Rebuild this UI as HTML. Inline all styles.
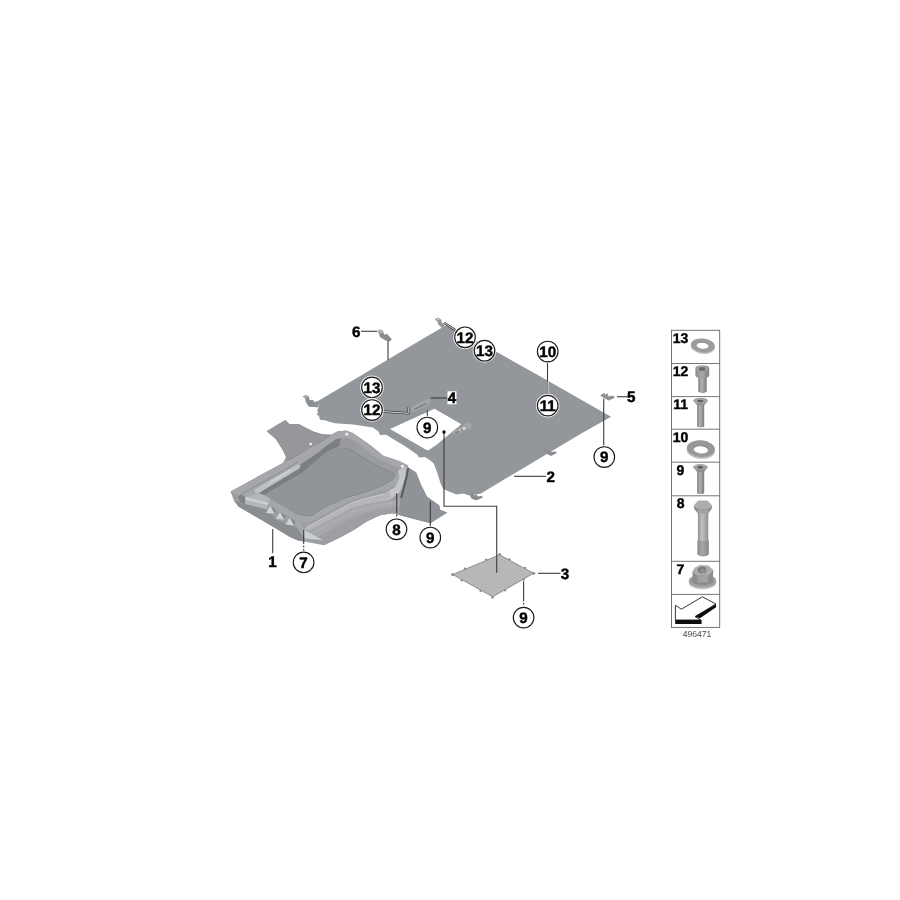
<!DOCTYPE html>
<html lang="en">
<head>
<meta charset="utf-8">
<title>Underbody panelling diagram 496471</title>
<style>
html,body{margin:0;padding:0;background:#fff;}
body{width:900px;height:900px;overflow:hidden;}
svg{display:block;}
text{font-family:"Liberation Sans",sans-serif;}
text{text-rendering:geometricPrecision;}
.b{font-weight:bold;font-size:15.2px;fill:#000;stroke:#000;stroke-width:0.45px;text-anchor:middle;}
.t{font-weight:bold;font-size:14px;fill:#000;stroke:#000;stroke-width:0.4px;text-anchor:middle;}
.c{fill:#fff;stroke:#1c1c1c;stroke-width:1.15;}
.l{stroke:#3c3c3c;stroke-width:1.1;fill:none;}
.h{stroke:#3a3a3a;stroke-width:2.4;fill:none;}
.hw{stroke:#fff;stroke-width:0.8;fill:none;}
</style>
</head>
<body>
<svg width="900" height="900" viewBox="0 0 900 900">
<defs>
<filter id="soft" x="-5%" y="-5%" width="110%" height="110%"><feGaussianBlur stdDeviation="0.5"/></filter>
<filter id="soft2" x="-5%" y="-5%" width="110%" height="110%"><feGaussianBlur stdDeviation="0.35"/></filter>
<linearGradient id="shaft" x1="0" x2="1" y1="0" y2="0">
<stop offset="0" stop-color="#7e7e7e"/><stop offset="0.4" stop-color="#b2b2b2"/><stop offset="1" stop-color="#7a7a7a"/>
</linearGradient>
<linearGradient id="shaft8" x1="0" x2="1" y1="0" y2="0">
<stop offset="0" stop-color="#8c8c8c"/><stop offset="0.4" stop-color="#c2c2c2"/><stop offset="1" stop-color="#8a8a8a"/>
</linearGradient>
<linearGradient id="headg" x1="0" x2="1" y1="0" y2="0">
<stop offset="0" stop-color="#8c8c8c"/><stop offset="0.45" stop-color="#a8a8a8"/><stop offset="1" stop-color="#808080"/>
</linearGradient>
<pattern id="mesh" width="2" height="2" patternUnits="userSpaceOnUse">
<rect width="2" height="2" fill="#b4b4b4"/><rect width="1" height="1" fill="#aaaaaa"/><rect x="1" y="1" width="1" height="1" fill="#bdbdbd"/>
</pattern>
</defs>
<rect width="900" height="900" fill="#fff"/>

<g id="art" filter="url(#soft)">
<!-- PANEL 2 -->
<g id="panel2">
<path fill="#93969b" d="M318,401 L388,359.6 L425,337.6 L446.5,325 L475.8,340.7 L496,351.6 L540,376.2 L611,416.7 L580,434.2 L500,482 L481,493.6 L470,495.6 L468.2,495.3 L463.8,493.6 L456.7,494.4 L447.8,490.9 L443.3,489.1 L440.7,483.8 L437.1,472.2 L433.6,463.3 L432.2,462 L425.1,457 L418.9,457.4 L417.1,454.5 L404.7,446 L386,434.7 L380,434.9 L378.5,431.5 L372.9,427.5 L353.3,424.6 L335,423.2 L329.7,421.9 L326.1,420.6 L320,419.7 L319,416 L316.5,414.3 L318.1,412.6 L317.2,410.8 L318.4,407.2 Z"/>
<path fill="#fff" d="M390,429 L434.5,408.8 L461.3,424.3 L437,444.6 L428.5,450.2 L427,450.2 Z"/>
<!-- brackets 4 -->
<path fill="#a3a5a8" d="M410.7,407.5 L428,398.5 L430.3,400.5 L429.3,405 L412,412.3 Z"/>
<path fill="#7e8185" d="M413.5,409 L426.5,402.5 L427,404 L414,410.3 Z"/>
<path fill="#a3a5a8" d="M452,432 L469.3,422 L471.5,424 L471,427.5 L455,435 Z"/>
<path fill="#7e8185" d="M455,432.7 L462,429 L462.5,430.5 L455.7,434 Z"/>
<circle cx="464" cy="428.5" r="1.3" fill="#e8e8e8"/>
<circle cx="460" cy="430.5" r="1" fill="#e0e0e0"/>
<!-- clips -->
<path fill="#8b8d90" d="M543,449.6 L546,448.3 L547.5,450.5 L549.3,449.3 L551,452 L555.5,451.5 L557,453 L551,456 L547,454 L545.5,452 Z"/>
<path fill="#8b8d90" d="M470,494.5 L473,493.3 L474.5,495.5 L476.3,494.3 L478,496.5 L481.5,495.8 L483,497.5 L476.5,500.3 L472,499 L470.5,497 Z"/>
<path fill="#8c8f93" d="M302.6,396.6 L305.7,395 L308.8,396.6 L309.7,400.1 L312.8,400.1 L314.6,401.9 L318.1,401 L318,407.2 L309.2,406.8 L308.3,405.9 L305.7,401.9 L305.2,398.8 Z"/>
<path fill="#b4b6b8" d="M303.5,396.6 L305.7,395.5 L307.8,397 L305.5,398 Z"/>
<!-- bracket 6 -->
<path fill="#8a8c8f" d="M377.4,331.2 L379.7,329.4 L382.8,330.6 L384.1,334.6 L387.2,334.1 L391.7,339 L390.3,341.2 L386.3,340.8 L380.1,337.2 L379.2,334.1 Z"/>
<path fill="#b9bbbd" d="M378.3,331.2 L379.8,330 L382,331 L382.5,333 L380,333 Z"/>
<!-- bracket near top 12 -->
<path fill="#96989b" d="M434.8,319.2 L437.9,317.4 L441.4,319.7 L441.9,322.8 L444.1,324.6 L444.5,327.5 L441.9,328 L438.3,324.6 L437.9,321.9 L436,320.5 Z"/>
<path fill="#c2c4c6" d="M436.2,319.2 L438,318.3 L439.8,319.5 L438.2,320.4 Z"/>
<!-- bracket 5 -->
<path fill="#909295" d="M600.2,395.3 L604.2,392.9 L605.6,394.7 L607.3,393.1 L608.7,396.4 L612.2,395.6 L614.9,396.9 L614,398.2 L608.7,400.4 L603.3,397.8 Z"/>
</g>

<!-- TRAY 1 -->
<g id="tray1">
<!-- outline base -->
<path fill="#9c9ea2" d="M266.7,431.3 L285.3,420 L289.3,424 L298.7,424 L313.3,431.6 L322.2,434.2 L331.1,434.7 L337.3,431.6 L346.2,430.5 L353.3,433.3 L362.2,439.6 L371.1,445.8 L383.3,455.7 L399.3,461 L407.3,465 L409.1,468.1 L416.2,472.6 L420.7,484.1 L426.9,496.6 L439.3,505.4 L440.2,509.9 L447.3,512.6 L430.4,523.2 L399.3,515.1 L392.2,513.3 L380,515.2 L366.7,521.6 L353.3,530.2 L340,537.6 L323.8,545.3 L312.2,543.1 L298,540.4 L290,536.9 L276.7,528.9 L261.6,520 L238.7,506.7 L234,500.7 L230.5,491.5 L260,475.3 L282.8,463.1 L286,457 L282.7,450 L276,439.3 Z"/>
<!-- upper-left flap -->
<path fill="#95979b" d="M266.7,431.3 L285.3,420 L289.3,424 L298.7,424 L313.3,431.6 L322.2,434.2 L331.1,434.7 L322.2,441.3 L311,448 L300,453.8 L286,461.5 L286,457 L282.7,450 L276,439.3 Z"/>
<path fill="none" stroke="#6d7074" stroke-width="0.9" d="M287,461 L300,453.8 L311.5,448 L322.2,441.3 L331,435"/>
<!-- right flap darker -->
<path fill="#8f9296" d="M409.1,468.1 L416.2,472.6 L420.7,484.1 L426.9,496.6 L439.3,505.4 L440.2,509.9 L447.3,512.6 L430.4,523.2 L399.3,515.2 L398.5,505 L401.1,498.3 Z"/>
<!-- outer rim band (left) slightly lighter -->
<path fill="#a5a7aa" d="M230.5,491.5 L260,475.3 L282.8,463.1 L287,461 L300,453.8 L322.2,441.3 L331,435 L337.3,431.6 L346.2,430.5 L353.3,433.3 L362.2,439.6 L371.1,445.8 L383.3,455.7 L399.3,461 L407.3,465 L408.2,468.1 L402,470 L384,461.5 L370,454 L356,441.5 L346,437.5 L333,441 L303,463 L299.7,468.4 L257.9,493.3 L245.4,496.9 Z"/>
<!-- groove line -->
<path fill="none" stroke="#888b8f" stroke-width="0.9" d="M241,494.2 L254.3,487 L283,470.5 L298,462"/>
<!-- left rim highlight strip -->
<path fill="#bfc1c4" d="M254.3,489.8 L297.5,464.5 L300.5,466 L299.5,468.6 L258.5,493.3 L255,492.5 Z"/>
<path fill="#d2d4d6" d="M270,481.5 L291,469 L292,470 L271,482.5 Z"/>
<!-- inner wall dark (upper-left) -->
<path fill="#989a9e" d="M320,450 L333,441 L346,437.5 L356,441.5 L353.3,451.1 L344.4,447.6 L333.8,448.4 L326.7,452 Z"/>
<path fill="#7b7e82" d="M258.5,493.3 L299.5,468.6 L300.5,466 L300.5,464.4 L308.9,459.1 L317.8,452.9 L326.7,445.8 L335.6,439.8 L341,437.8 L339,446.5 L333.8,448.4 L326.7,452 L313.3,463.3 L302.7,472.4 L264,495 Z"/>
<!-- inner wall right (upper-right), mid -->
<path fill="#9a9ca0" d="M356,441.5 L370,454 L384,461.5 L402,470 L396,474 L392.7,472.7 L380,467.1 L366.7,460 L353.3,451.1 Z"/>
<!-- floor -->
<path fill="#919499" d="M264,495 L302.7,472.4 L313.3,463.3 L326.7,452 L333.8,448.4 L344.4,447.6 L353.3,451.1 L366.7,460 L380,467.1 L392.7,472.7 L396,474.3 L392.2,480.6 L380,487.3 L357.8,494.9 L344.4,498.4 L322.2,509.1 L311.6,516.2 L304.4,516.2 L294.7,513.5 L270.7,499.3 Z"/>
<path fill="none" stroke="#808387" stroke-width="0.9" stroke-linejoin="round" d="M344.4,447.8 L353.3,451.3 L366.7,460.2 L380,467.3 L392.7,472.9 L395.6,474.5 L392,480.4 L380,487 L357.8,494.6 L344.4,498.1 L322.2,508.8 L311.6,515.8 L304.4,515.9 L294.7,513.2"/>
<!-- wall lower-right (between floor and light band) -->
<path fill="#a4a6aa" d="M396,474.3 L402,470 L403.5,474 L398,484 L384,490.5 L362.2,496.5 L349.8,501 L307.1,524 L300,520 L294.7,513.5 L304.4,516.2 L311.6,516.2 L322.2,509.1 L344.4,498.4 L357.8,494.9 L380,487.3 L392.2,480.6 Z"/>
<!-- light band from corner hole sweeping down-left -->
<path fill="#c3c5c8" d="M398,470 L406,467 L405.5,476 L402.5,486 L399,493 L390,499.5 L375,502.5 L370,499 L385,493.5 L395,487 L399.5,478 Z"/>
<path fill="#b4b6b9" d="M307.1,526.9 L349.8,503.8 L362.2,499.3 L375,496 L390,492 L391,498 L375,502.5 L363,505 L351,508.5 L309,531 L304,528.7 Z"/>
<path fill="none" stroke="#cfd1d3" stroke-width="0.8" d="M307.1,526.9 L349.8,503.8 L362.2,499.3 L384,494"/>
<!-- lower right band -->
<path fill="#a6a8ab" d="M309,531 L351,508.5 L363,505 L392,500 L400,498.5 L399.3,515.1 L392.2,513.3 L380,515.2 L366.7,521.6 L353.3,530.2 L340,537.6 L323.8,545.3 L323.1,540.8 Z"/>
<path fill="none" stroke="#b6b8bb" stroke-width="0.8" d="M311,534 L353.5,511.5 L380,504.8 L398,502"/>
<path fill="#9d9fa2" d="M318,537.5 L354,516.5 L380,509 L399,506.5 L399.3,515.1 L392.2,513.3 L380,515.2 L366.7,521.6 L353.3,530.2 L340,537.6 L323.8,545.3 L323.1,540.8 Z"/>
<!-- dark line on right of rim -->
<path fill="none" stroke="#585b5f" stroke-width="2" d="M408.2,468.1 L406.5,477 L403.5,489 L401.1,498.3"/>
<!-- front face -->
<path fill="#8a8d91" d="M234,500.7 L245.4,504 L266.8,509.3 L275.7,519.1 L285,524 L293,526 L300,530 L304.4,538.4 L304,541.5 L298,540.4 L290,536.9 L276.7,528.9 L261.6,520 L238.7,506.7 Z"/>
<!-- left corner dark wedge -->
<path fill="#808387" d="M241,494.2 L245.4,496.9 L245.4,504 L240,502 L238,497 Z"/>
<!-- left shelf highlight -->
<path fill="#b4b6b9" d="M245.4,496.9 L258.5,493.3 L264,495 L270.7,499.3 L268.5,503.1 L266.8,509.3 L245.4,504 Z"/>
<path fill="#d0d2d4" d="M245.4,496.9 L268.5,503.1 L268,505 L245.4,499.5 Z"/>
<!-- band between floor and ribs -->
<path fill="#a4a6a9" d="M270.7,499.3 L294.7,513.5 L304.4,516.2 L300,520 L303.6,529.6 L295,524.5 L290,516.4 L280,512 L270.3,505.8 L268.5,503.1 Z"/>
<!-- ribs -->
<path fill="#cfd1d3" d="M270.3,505.8 L274.8,513.8 L265.9,512.9 Z"/>
<path fill="#cfd1d3" d="M280.1,512 L284.5,519.5 L275.7,519.1 Z"/>
<path fill="#cfd1d3" d="M289.9,517.5 L294.3,525.5 L285.5,524.6 Z"/>
<path fill="#85888c" d="M270.3,505.8 L275.8,509.8 L274.8,513.8 Z"/>
<path fill="#85888c" d="M280.1,512 L285.5,515.8 L284.5,519.5 Z"/>
<path fill="#85888c" d="M289.9,517.5 L295.3,521.5 L294.3,525.5 Z"/>
<!-- end triangle -->
<path fill="#a3a5a8" d="M295,522 L300,520 L303.6,529.6 L304.4,538.4 L299,531 Z"/>
<path fill="#cccfd1" d="M303.6,529.6 L323.1,540.2 L304.4,538.4 Z"/>
<!-- holes -->
<circle cx="310.7" cy="444" r="1.3" fill="#f4f4f4"/>
<circle cx="346.7" cy="434.2" r="1.4" fill="#f4f4f4"/>
<circle cx="402.4" cy="466.3" r="1.5" fill="#f4f4f4"/>
<circle cx="396.7" cy="493" r="0.9" fill="#e4e4e4"/>
<circle cx="353.5" cy="496.5" r="0.7" fill="#c8c8c8"/>
</g>

<!-- MESH 3 -->
<g id="mesh3">
<g fill="#8f8f8f">
<circle cx="452.6" cy="574.5" r="1.5"/><circle cx="499.6" cy="554.6" r="1.5"/><circle cx="533.7" cy="573.3" r="1.5"/><circle cx="492.6" cy="597" r="1.5"/>
<circle cx="465" cy="568.6" r="1.2"/><circle cx="486.1" cy="559.6" r="1.2"/><circle cx="509.4" cy="559.4" r="1.2"/><circle cx="525" cy="568" r="1.2"/>
<circle cx="523.6" cy="579.6" r="1.2"/><circle cx="505" cy="590.2" r="1.2"/><circle cx="461.7" cy="580.3" r="1.2"/><circle cx="480.6" cy="590.8" r="1.2"/>
</g>
<path fill="#b8b8b8" stroke="#858585" stroke-width="0.9" stroke-linejoin="round" d="M452.8,574.5 L499.6,554.8 L533.5,573.3 L492.7,596.8 Z"/>
<path fill="url(#mesh)" opacity="0.2" d="M455,574.5 L499.6,556 L531.5,573.4 L492.7,595.5 Z"/>
</g>
</g>

<g id="leaders" filter="url(#soft2)">
<path class="l" d="M361,331.3 H377"/>
<path class="l" d="M388,340.5 V360"/>
<path class="l" d="M547.5,361 V395"/>
<path class="hw" d="M548,381 V395" stroke-width="0.7"/>
<path class="l" d="M617,396.7 H627.6"/>
<path class="l" d="M603.7,398.7 V447"/>
<path class="h" d="M383,411.5 L408.3,413.3 V407.3"/>
<path class="hw" d="M383,411.5 L408.3,413.3 V407.3"/>
<path class="h" d="M444,322.7 L456,330.5"/>
<path class="hw" d="M444,322.7 L456,330.5"/>
<path class="l" d="M430.7,398 H447.3"/>
<path class="l" d="M427.3,410.5 V417"/>
<path class="l" d="M444,432 V506.3 H496.7 V572.8"/>
<circle cx="444" cy="432" r="1.7" fill="#111"/>
<path class="l" d="M514,476.3 H546"/>
<path class="l" d="M396.7,493 V518" stroke-dasharray="20 1.5 2 1.5"/>
<path class="l" d="M430.3,501.5 V527"/>
<path class="l" d="M272.7,529 V553"/>
<path class="l" d="M303.7,530 V552" stroke-dasharray="14 1.5 2 1.5 2 1.5"/>
<path class="l" d="M538,573.3 H560.5"/>
<path class="l" d="M523.6,581.3 V607" stroke-dasharray="20 1.5 2 1.5"/>
</g>
<g id="labels" filter="url(#soft2)">
<rect x="447.5" y="391.3" width="9" height="13" fill="#fff"/>
<text class="b" x="356.3" y="336.7">6</text>
<text class="b" x="452" y="403.4">4</text>
<text class="b" x="631.3" y="402.4">5</text>
<text class="b" x="550.7" y="481.9">2</text>
<text class="b" x="272.4" y="566.6999999999999">1</text>
<text class="b" x="565" y="579.4">3</text>
<circle cx="465" cy="337.3" r="11.8" fill="#fff" opacity="0.85"/><circle class="c" cx="465" cy="337.3" r="10.3"/><text class="b" x="465" y="342.7">12</text>
<circle cx="484.5" cy="350.7" r="11.8" fill="#fff" opacity="0.85"/><circle class="c" cx="484.5" cy="350.7" r="10.3"/><text class="b" x="484.5" y="356.09999999999997">13</text>
<circle cx="547.7" cy="351.5" r="11.8" fill="#fff" opacity="0.85"/><circle class="c" cx="547.7" cy="351.5" r="10.3"/><text class="b" x="547.7" y="356.9">10</text>
<circle cx="547.7" cy="405.6" r="11.8" fill="#fff" opacity="0.85"/><circle class="c" cx="547.7" cy="405.6" r="10.3"/><text class="b" x="547.7" y="411.0">11</text>
<circle cx="372" cy="387.4" r="11.8" fill="#fff" opacity="0.85"/><circle class="c" cx="372" cy="387.4" r="10.3"/><text class="b" x="372" y="392.79999999999995">13</text>
<circle cx="372" cy="410" r="11.8" fill="#fff" opacity="0.85"/><circle class="c" cx="372" cy="410" r="10.3"/><text class="b" x="372" y="415.4">12</text>
<circle cx="427.3" cy="427.5" r="11.8" fill="#fff" opacity="0.85"/><circle class="c" cx="427.3" cy="427.5" r="10.3"/><text class="b" x="427.3" y="432.9">9</text>
<circle cx="604.3" cy="457" r="11.8" fill="#fff" opacity="0.85"/><circle class="c" cx="604.3" cy="457" r="10.3"/><text class="b" x="604.3" y="462.4">9</text>
<circle cx="396.5" cy="529.3" r="11.8" fill="#fff" opacity="0.85"/><circle class="c" cx="396.5" cy="529.3" r="10.3"/><text class="b" x="396.5" y="534.6999999999999">8</text>
<circle cx="430.3" cy="537.5" r="11.8" fill="#fff" opacity="0.85"/><circle class="c" cx="430.3" cy="537.5" r="10.3"/><text class="b" x="430.3" y="542.9">9</text>
<circle cx="303.6" cy="562.4" r="11.8" fill="#fff" opacity="0.85"/><circle class="c" cx="303.6" cy="562.4" r="10.3"/><text class="b" x="303.6" y="567.8">7</text>
<circle cx="523.6" cy="617.6" r="11.8" fill="#fff" opacity="0.85"/><circle class="c" cx="523.6" cy="617.6" r="10.3"/><text class="b" x="523.6" y="623.0">9</text>
</g>

<g id="legend" filter="url(#soft2)">
<rect x="671.5" y="330.3" width="48.2" height="297.1" fill="#fff" stroke="#666" stroke-width="0.9"/>
<path stroke="#666" stroke-width="0.9" fill="none" d="M671.5,363.5 H719.7 M671.5,396.6 H719.7 M671.5,429.2 H719.7 M671.5,462.2 H719.7 M671.5,495.8 H719.7 M671.5,561.3 H719.7 M671.5,594.4 H719.7"/>
<!-- washer 13 -->
<g transform="rotate(7 702.9 345.8)">
<ellipse cx="702.9" cy="346.6" rx="12" ry="7.2" fill="#bcbcbc"/>
<ellipse cx="702.9" cy="345.4" rx="12" ry="6.9" fill="#9c9c9c"/>
<ellipse cx="702.6" cy="345.6" rx="6.1" ry="3.2" fill="#fff"/>
<path d="M696.7,345 A6.1,3.2 0 0 1 708.7,345" fill="none" stroke="#868686" stroke-width="0.8"/>
</g>
<!-- bolt 12 -->
<path fill="url(#shaft)" d="M698.3,376.5 H706.7 V391.8 Q702.5,394.6 698.3,391.8 Z"/>
<path fill="url(#headg)" d="M695.4,368.2 Q695.4,365.2 702.3,365.2 Q709.2,365.200 709.2,368.2 V375.5 Q709.2,378 702.3,378 Q695.400,378 695.400,375.5 Z"/>
<ellipse cx="702.3" cy="368.6" rx="5.6" ry="2.7" fill="#a9a9a9"/>
<ellipse cx="702.2" cy="369" rx="3.5" ry="1.9" fill="#6a6a6a"/>
<!-- bolt 11 -->
<path fill="url(#shaft)" d="M697.1,403 H704.2 V426.6 Q700.6,428.6 697.1,426.6 Z"/>
<path fill="#8e8e8e" d="M693.3,400.8 Q700.6,396.800 707.9,400.8 L704.2,405.2 H697.1 Z"/>
<ellipse cx="700.6" cy="400.6" rx="7.3" ry="2.9" fill="#a4a4a4"/>
<ellipse cx="700.4" cy="401" rx="3" ry="1.3" fill="#5e5e5e"/>
<!-- washer 10 -->
<g transform="rotate(5 700.8 449.2)">
<ellipse cx="700.9" cy="450.2" rx="14.1" ry="8.6" fill="#bababa"/>
<ellipse cx="700.9" cy="448.6" rx="14.1" ry="8.3" fill="#989898"/>
<ellipse cx="700.9" cy="449.6" rx="7.3" ry="3.800" fill="#fff"/>
<path d="M693.7,449 A7.3,3.8 0 0 1 708.1,449" fill="none" stroke="#828282" stroke-width="0.9"/>
</g>
<!-- bolt 9 -->
<path fill="url(#shaft)" d="M697.1,469.6 H704.2 V493.2 Q700.6,495.2 697.1,493.2 Z"/>
<path fill="#8e8e8e" d="M693.2,467.2 Q700.5,463.200 707.9,467.2 L704.2,471.8 H697.1 Z"/>
<ellipse cx="700.5" cy="467" rx="7.3" ry="3" fill="#a4a4a4"/>
<ellipse cx="700.3" cy="467.4" rx="3" ry="1.4" fill="#5e5e5e"/>
<!-- bolt 8 -->
<path fill="url(#shaft8)" d="M697.9,512 H708.3 V539.2 L708.75,541 V554.5 Q703.1,558.300 697.5,554.5 V541 L697.9,539.2 Z"/>
<path fill="#858585" opacity="0.45" d="M697.5,541 H708.75 V554.5 Q703.1,558.3 697.5,554.5 Z"/>
<path fill="#8d8d8d" d="M693.75,505.4 L697.9,508.3 H708.3 L712.1,505.4 L711.600,509 L708.3,513.300 H697.900 L694.200,509 Z"/>
<path fill="#a2a2a2" d="M697.9,508.3 H708.3 V513.300 H697.9 Z"/>
<path fill="#adadad" d="M693.75,505.4 L698.3,500.400 H707.5 L712.1,505.400 L708.3,508.3 H697.9 Z"/>
<!-- nut 7 -->
<ellipse cx="702.5" cy="582.4" rx="13.75" ry="7" fill="#c2c2c2"/>
<ellipse cx="702.5" cy="581" rx="13.75" ry="6.6" fill="#a0a0a0"/>
<ellipse cx="702.5" cy="580.300" rx="11" ry="5" fill="#8a8a8a"/>
<path fill="#8c8c8c" d="M692.3,571.5 L697.5,575 H708.3 L713.3,570 L712.800,578.500 L708.3,582.5 H697.5 L692.8,579 Z"/>
<path fill="#a0a0a0" d="M697.5,575 H708.3 V582.5 H697.5 Z"/>
<path fill="#acacac" d="M692.3,571.5 L695,567.5 L700,565 L708.3,565.400 L713.3,570 L708.3,575 H697.5 Z"/>
<ellipse cx="702.1" cy="570" rx="4.300" ry="3.2" fill="#787878"/>
<ellipse cx="702.6" cy="570.6" rx="2.8" ry="2" fill="#8e8e8e"/>
<!-- arrow -->
<path fill="#fff" stroke="#222" stroke-width="0.9" stroke-linejoin="miter" d="M675.4,605.3 L681.4,609.2 L702.4,596.8 L716,604.1 L695,616.6 L701,620 H675.4 Z"/>
<path fill="#111" d="M675.2,620 H701.6 V624 H675.2 Z"/>
<path fill="#111" d="M716,604.1 V607.3 L700,618.3 L695,616.6 Z"/>
<text class="t" x="680.6" y="343.2">13</text>
<text class="t" x="680.6" y="376">12</text>
<text class="t" x="680.6" y="409">11</text>
<text class="t" x="680.6" y="442">10</text>
<text class="t" x="680.3" y="474.8">9</text>
<text class="t" x="680.6" y="508.2">8</text>
<text class="t" x="680.3" y="573.6">7</text>
<text x="697" y="636.9" text-anchor="middle" font-size="8.6" fill="#4c4c4c">496471</text>
</g>
</svg>
</body>
</html>
